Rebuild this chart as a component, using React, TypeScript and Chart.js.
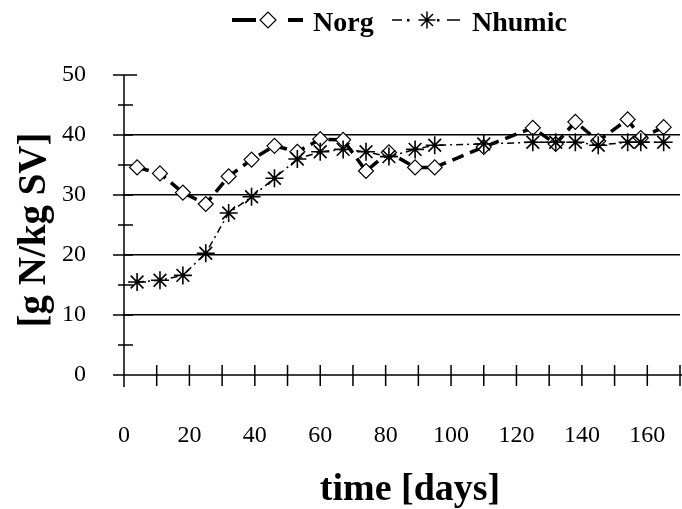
import React, { useEffect, useRef } from 'react';
import { Chart, registerables } from 'chart.js';

Chart.register(...registerables);

// time [days]
const days = [4, 11, 18, 25, 32, 39, 46, 53, 60, 67, 74, 81, 89, 95, 110, 125, 132, 138, 145, 154, 158, 165];
// Norg [g N/kg SV]
const norg = [34.6, 33.6, 30.4, 28.5, 33.1, 35.9, 38.2, 37.2, 39.3, 39.2, 34.0, 37.1, 34.6, 34.6, 38.0, 41.2, 38.5, 42.2, 39.0, 42.6, 39.5, 41.3];
// Nhumic [g N/kg SV]
const nhumic = [15.5, 15.8, 16.6, 20.3, 27.0, 29.7, 32.8, 36.0, 37.2, 37.6, 37.2, 36.4, 37.6, 38.3, 38.5, 38.8, 38.8, 38.8, 38.3, 38.8, 38.8, 38.8];

const xTickLabels = [0, 20, 40, 60, 80, 100, 120, 140, 160];
const yTickLabels = [0, 10, 20, 30, 40, 50];
const seriesNames = ['Norg', 'Nhumic'];
const xTitle = 'time [days]';
const yTitle = '[g N/kg SV]';

const SERIF = '"Liberation Serif", "Times New Roman", serif';

function drawStar(ctx: CanvasRenderingContext2D, x: number, y: number, r: number) {
  ctx.beginPath();
  for (let i = 0; i < 4; i++) {
    const a = (i * Math.PI) / 4;
    ctx.moveTo(x - Math.cos(a) * r, y - Math.sin(a) * r);
    ctx.lineTo(x + Math.cos(a) * r, y + Math.sin(a) * r);
  }
  ctx.stroke();
}

function drawDiamond(ctx: CanvasRenderingContext2D, x: number, y: number, r: number) {
  ctx.beginPath();
  ctx.moveTo(x - r, y);
  ctx.lineTo(x, y - r);
  ctx.lineTo(x + r, y);
  ctx.lineTo(x, y + r);
  ctx.closePath();
  ctx.fillStyle = '#fff';
  ctx.fill();
  ctx.stroke();
}

const decorPlugin = {
  id: 'decor',
  beforeDatasetsDraw(chart: any) {
    const ctx: CanvasRenderingContext2D = chart.ctx;
    const xs = chart.scales.x;
    const ys = chart.scales.y;
    const x0 = xs.getPixelForValue(0);
    const y0 = ys.getPixelForValue(0);
    ctx.save();
    ctx.strokeStyle = '#000';
    ctx.lineWidth = 1.5;
    ctx.beginPath();
    ctx.moveTo(x0, ys.getPixelForValue(50));
    ctx.lineTo(x0, y0 + 12);
    ctx.moveTo(x0 - 11, y0);
    ctx.lineTo(chart.width, y0);
    for (let v = 0; v <= 50; v += 5) {
      const py = ys.getPixelForValue(v);
      const major = v % 10 === 0;
      ctx.moveTo(x0 - (major ? 11 : 6), py);
      ctx.lineTo(x0 + (v === 50 ? 13 : 9), py);
    }
    for (let v = 0; v <= 170; v += 10) {
      const px = xs.getPixelForValue(v);
      ctx.moveTo(px, y0 - 10);
      ctx.lineTo(px, y0 + 11);
    }
    ctx.stroke();
    ctx.restore();
  },
  afterDraw(chart: any) {
    const ctx: CanvasRenderingContext2D = chart.ctx;
    ctx.save();
    ctx.fillStyle = '#000';
    ctx.strokeStyle = '#000';
    // axis titles
    ctx.font = `bold 38px ${SERIF}`;
    ctx.textAlign = 'center';
    ctx.textBaseline = 'alphabetic';
    ctx.fillText(xTitle, 410, 500);
    ctx.save();
    ctx.translate(45, 230);
    ctx.rotate(-Math.PI / 2);
    ctx.font = `bold 39px ${SERIF}`;
    ctx.fillText(yTitle, 0, 0);
    ctx.restore();

    // legend
    const ly = 20;
    ctx.lineWidth = 4;
    ctx.beginPath();
    ctx.moveTo(232, ly);
    ctx.lineTo(256, ly);
    ctx.moveTo(288, ly);
    ctx.lineTo(303, ly);
    ctx.stroke();
    ctx.lineWidth = 1.2;
    drawDiamond(ctx, 268, ly, 8);

    ctx.fillStyle = '#000';
    ctx.lineWidth = 1.5;
    ctx.beginPath();
    ctx.moveTo(392, ly);
    ctx.lineTo(402, ly);
    ctx.moveTo(447, ly);
    ctx.lineTo(460, ly);
    ctx.stroke();
    ctx.fillRect(407, ly - 1, 2.5, 2.5);
    ctx.fillRect(437, ly - 1, 2.5, 2.5);
    drawStar(ctx, 427, ly, 8.5);

    ctx.fillStyle = '#000';
    ctx.font = `bold 28px ${SERIF}`;
    ctx.textAlign = 'left';
    ctx.fillText(seriesNames[0], 313, 31);
    ctx.fillText(seriesNames[1], 472, 31);
    ctx.restore();
  },
};

export default function App() {
  const ref = useRef<HTMLCanvasElement>(null);

  useEffect(() => {
    if (!ref.current) return;
    const chart = new Chart(ref.current, {
      type: 'line',
      data: {
        datasets: [
          {
            label: seriesNames[1],
            data: days.map((d, i) => ({ x: d, y: nhumic[i] })),
            borderColor: '#000',
            borderWidth: 1.5,
            borderDash: [7, 4, 2, 4],
            pointStyle: 'star',
            pointRadius: 9,
            pointBorderColor: '#000',
            pointBackgroundColor: '#000',
            pointBorderWidth: 1.6,
            tension: 0,
            order: 0,
          },
          {
            label: seriesNames[0],
            data: days.map((d, i) => ({ x: d, y: norg[i] })),
            borderColor: '#000',
            borderWidth: 3.5,
            borderDash: [12, 7],
            pointStyle: 'rectRot',
            pointRadius: 7.5,
            pointBorderColor: '#000',
            pointBackgroundColor: '#fff',
            pointBorderWidth: 1.2,
            tension: 0,
            order: 1,
          },
        ],
      },
      options: {
        animation: false,
        responsive: false,
        layout: { autoPadding: false, padding: { top: 75, right: 2, left: 0, bottom: 0 } },
        plugins: { legend: { display: false }, tooltip: { enabled: false } },
        scales: {
          x: {
            type: 'linear',
            min: 0,
            max: 170,
            afterFit: (s: any) => {
              s.height = 134;
              s.paddingLeft = 0;
              s.paddingRight = 0;
            },
            grid: { display: false, drawTicks: false },
            border: { display: false },
            ticks: {
              stepSize: 10,
              autoSkip: false,
              maxRotation: 0,
              padding: 46,
              color: '#000',
              font: { family: SERIF, size: 24 },
              callback: (v: any) => (xTickLabels.includes(Number(v)) ? String(v) : ''),
            },
          },
          y: {
            type: 'linear',
            min: 0,
            max: 50,
            afterFit: (s: any) => {
              s.width = 124;
            },
            grid: {
              drawTicks: false,
              lineWidth: 1.5,
              color: (c: any) => {
                const v = c.tick ? c.tick.value : -1;
                return v > 0 && v < 50 ? '#000' : 'rgba(0,0,0,0)';
              },
            },
            border: { display: false },
            ticks: {
              stepSize: 10,
              padding: 38,
              color: '#000',
              font: { family: SERIF, size: 24 },
              callback: (v: any) => (yTickLabels.includes(Number(v)) ? String(v) : ''),
            },
          },
        },
      },
      plugins: [decorPlugin],
    } as any);
    return () => chart.destroy();
  }, []);

  return (
    <div style={{ position: 'fixed', left: 0, top: 0, width: 682, height: 509, background: '#fff' }}>
      <canvas ref={ref} width={682} height={509} style={{ display: 'block' }} />
    </div>
  );
}
